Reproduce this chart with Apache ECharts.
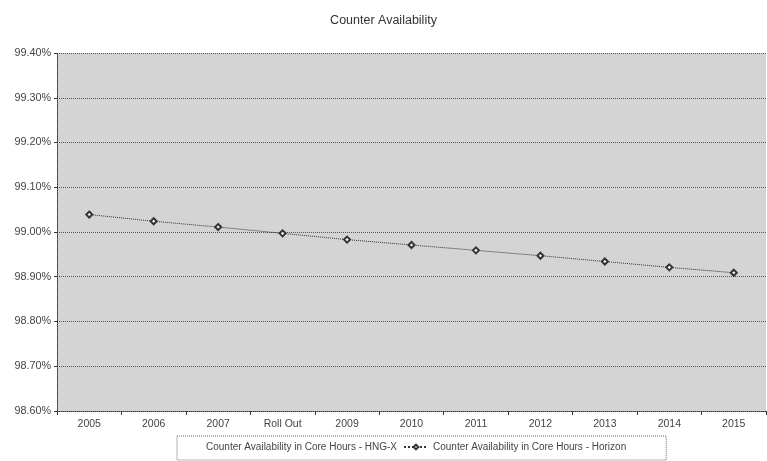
<!DOCTYPE html>
<html>
<head>
<meta charset="utf-8">
<script src="https://cdn.jsdelivr.net/npm/echarts@6/dist/echarts.min.js"></script>
<style>
  html, body { margin: 0; padding: 0; background: #fff; }
  #chart { width: 767px; height: 461px; }
</style>
</head>
<body>
<div id="chart"></div>
<script>
// Counter availability in core hours, by year
const categories = ['2005', '2006', '2007', 'Roll Out', '2009', '2010', '2011', '2012', '2013', '2014', '2015'];
const horizonValues = [99.039, 99.024, 99.011, 98.997, 98.983, 98.971, 98.959, 98.947, 98.934, 98.921, 98.909];
const hngxValues = [null, null, null, null, null, null, null, null, null, null, null];
const yTicks = { min: 98.6, max: 99.4, step: 0.1 };

const textFont = 'Liberation Sans';
const chart = echarts.init(document.getElementById('chart'), null, { renderer: 'canvas' });

chart.setOption({
  animation: false,
  backgroundColor: '#ffffff',
  title: {
    text: 'Counter Availability',
    left: 'center',
    top: 9,
    textStyle: { fontFamily: textFont, fontSize: 12.5, fontWeight: 'normal', color: '#333' }
  },
  grid: {
    left: 57, right: 1, top: 53, bottom: 50,
    show: true,
    backgroundColor: '#d4d4d4',
    borderWidth: 0
  },
  legend: {
    left: 177,
    top: 436,
    padding: [6, 40, 8, 0],
    itemGap: 6,
    itemWidth: 24,
    itemHeight: 6,
    borderColor: '#666',
    borderWidth: 1,
    borderType: 'dotted',
    textStyle: { fontFamily: textFont, fontSize: 10, color: '#444' },
    data: [
      { name: 'Counter Availability in Core Hours - HNG-X', icon: 'none' },
      { name: 'Counter Availability in Core Hours - Horizon' }
    ]
  },
  xAxis: {
    type: 'category',
    data: categories,
    boundaryGap: true,
    axisLine: { lineStyle: { color: '#333', type: 'dotted', width: 1 } },
    axisTick: { show: true, length: 4, lineStyle: { color: '#333' } },
    axisLabel: { fontFamily: textFont, fontSize: 10.5, color: '#444', margin: 8 },
    splitLine: { show: false }
  },
  yAxis: {
    type: 'value',
    min: yTicks.min,
    max: yTicks.max,
    interval: yTicks.step,
    axisLine: { show: true, lineStyle: { color: '#333', type: 'dotted', width: 1 } },
    axisTick: { show: true, length: 3, lineStyle: { color: '#333' } },
    axisLabel: {
      fontFamily: textFont, fontSize: 10.8, color: '#444', margin: 6,
      formatter: v => v.toFixed(2) + '%'
    },
    splitLine: { show: true, lineStyle: { color: '#555', type: 'dotted', width: 1 } }
  },
  series: [
    {
      name: 'Counter Availability in Core Hours - HNG-X',
      type: 'line',
      data: hngxValues,
      showSymbol: false,
      lineStyle: { color: '#ffffff', width: 1 },
      itemStyle: { color: '#ffffff' }
    },
    {
      name: 'Counter Availability in Core Hours - Horizon',
      type: 'line',
      data: horizonValues,
      symbol: 'emptyDiamond',
      symbolSize: 6,
      lineStyle: { color: '#333', width: 1, type: 'dotted' },
      itemStyle: { color: '#333', borderColor: '#333', borderWidth: 1.5 }
    }
  ]
});
</script>
</body>
</html>
